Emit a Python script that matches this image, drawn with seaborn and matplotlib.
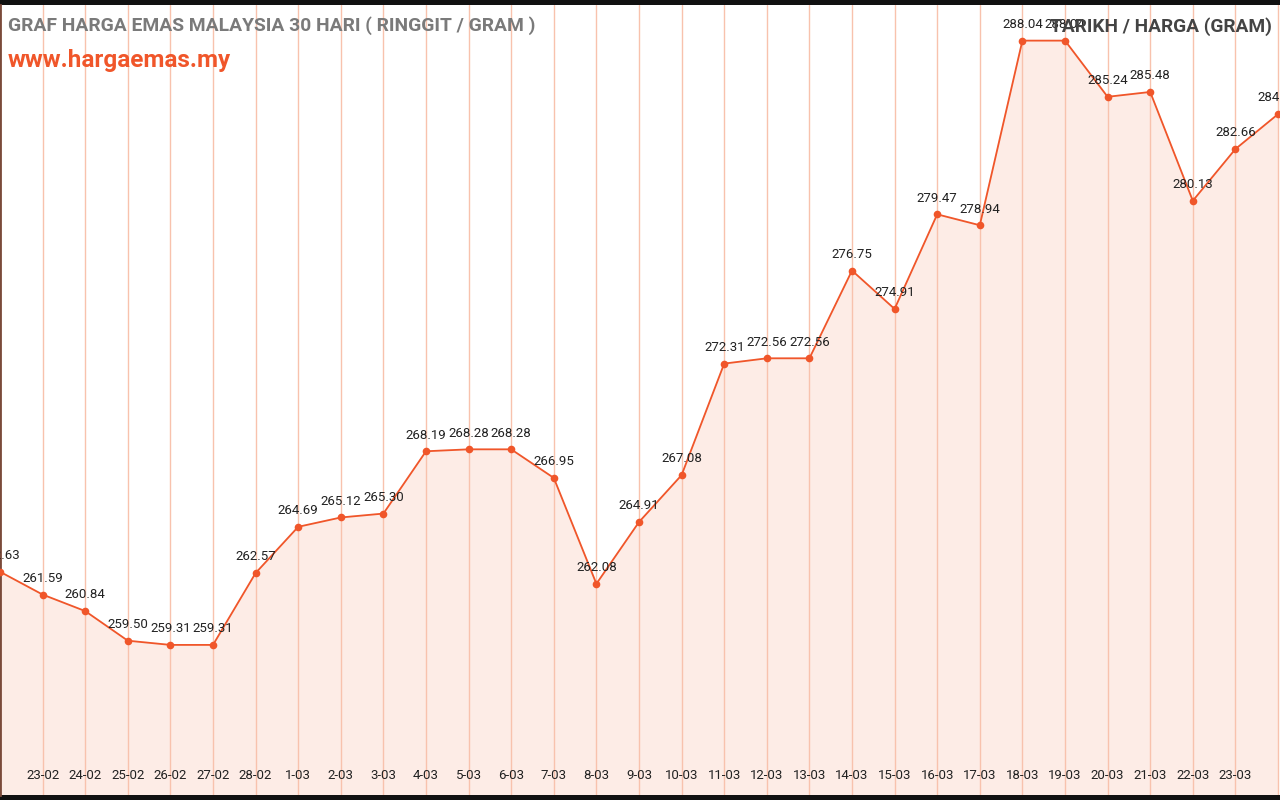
import matplotlib
matplotlib.use("Agg")
import matplotlib.pyplot as plt
from matplotlib.ticker import NullLocator
import seaborn as sns
import pandas as pd

dates = ["22-02", "23-02", "24-02", "25-02", "26-02", "27-02", "28-02",
         "1-03", "2-03", "3-03", "4-03", "5-03", "6-03", "7-03", "8-03",
         "9-03", "10-03", "11-03", "12-03", "13-03", "14-03", "15-03",
         "16-03", "17-03", "18-03", "19-03", "20-03", "21-03", "22-03",
         "23-03", "24-03"]
prices = [262.63, 261.59, 260.84, 259.50, 259.31, 259.31, 262.57,
          264.69, 265.12, 265.30, 268.19, 268.28, 268.28, 266.95, 262.08,
          264.91, 267.08, 272.31, 272.56, 272.56, 276.75, 274.91,
          279.47, 278.94, 288.04, 288.04, 285.24, 285.48, 280.13,
          282.66, 284.38]

title = "GRAF HARGA EMAS MALAYSIA 30 HARI ( RINGGIT / GRAM )"
site = "www.hargaemas.my"
right_title = "TARIKH / HARGA (GRAM)"

LINE = "#f0562a"
FILL = "#fdece6"
GRID = "#f8c2ad"

sns.set_theme(style="white")
plt.rcParams["font.family"] = ["Roboto", "DejaVu Sans"]

df = pd.DataFrame({"i": range(len(dates)), "price": prices})

fig = plt.figure(figsize=(12.8, 8), dpi=100, facecolor="#111111")
ax = fig.add_axes([0, 5 / 800, 1, 790 / 800])
ax.set_facecolor("white")
ax.set_yscale("log")

ax.fill_between(df["i"], df["price"], 240, color=FILL, zorder=1)
for i in df["i"]:
    ax.axvline(i, color=GRID, lw=1.0, zorder=2)
sns.lineplot(data=df, x="i", y="price", ax=ax, color=LINE, lw=1.3,
             marker="o", markersize=5.5, markeredgewidth=0, zorder=4)

for i, p in zip(df["i"], df["price"]):
    ax.annotate(f"{p:.2f}", (i, p), xytext=(0, 7), textcoords="offset points",
                ha="center", va="bottom", fontsize=9.5, color="#222222", zorder=5)

step = 42.6
ax.set_xlim(0, 1280 / step)
ax.set_ylim(252.63, 289.83)
ax.set_xticks(list(df["i"]))
ax.set_xticklabels([d if 0 < k < len(dates) - 1 else "" for k, d in enumerate(dates)])
ax.xaxis.set_zorder(6)
ax.tick_params(axis="x", direction="in", length=3, width=1, color="#222222",
               pad=-18.5, labelsize=9.5, labelcolor="#222222")
ax.yaxis.set_major_locator(NullLocator())
ax.yaxis.set_minor_locator(NullLocator())
ax.set_xlabel("")
ax.set_ylabel("")
for s in ["top", "right", "bottom"]:
    ax.spines[s].set_visible(False)
ax.spines["left"].set_color("#7a4a3a")
ax.spines["left"].set_linewidth(2)

fig.text(8 / 1280, 1 - 26 / 800, title, fontsize=13.9, fontweight="bold",
         color="#7a7a7a", ha="left", va="center")
fig.text(8 / 1280, 1 - 60 / 800, site, fontsize=17.5, fontweight="bold",
         color=LINE, ha="left", va="center")
fig.text(1272 / 1280, 1 - 27 / 800, right_title, fontsize=13.75, fontweight="bold",
         color="#444444", ha="right", va="center", zorder=10)

fig.savefig("out.png", dpi=100, facecolor=fig.get_facecolor())
